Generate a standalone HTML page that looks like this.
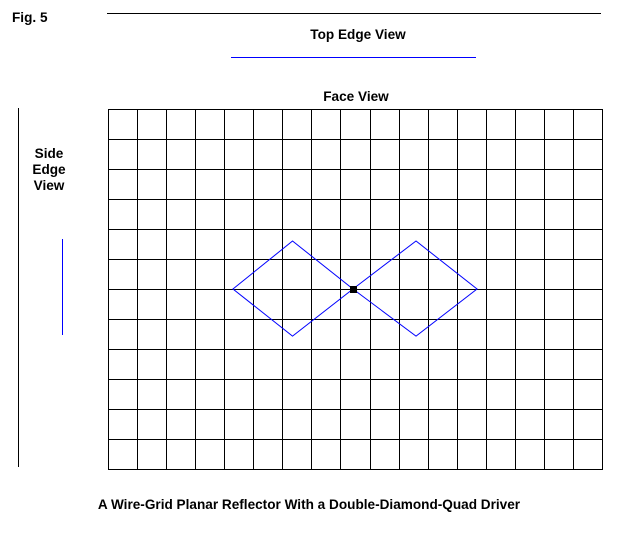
<!DOCTYPE html>
<html><head><meta charset="utf-8"><style>
body{margin:0;background:#fff;width:623px;height:528px;overflow:hidden}
svg text{font-family:"Liberation Sans",sans-serif;font-weight:bold;font-size:13.6px;fill:#000}
</style></head><body>
<svg id="c" width="623" height="528">
<text x="12" y="22">Fig. 5</text>
<line x1="107" y1="13.5" x2="601" y2="13.5" stroke="#000"/>
<text x="358" y="39" text-anchor="middle">Top Edge View</text>
<line x1="231" y1="57.5" x2="476" y2="57.5" stroke="#00f"/>
<text x="356" y="101" text-anchor="middle">Face View</text>
<line x1="18.5" y1="108" x2="18.5" y2="467" stroke="#000"/>
<text x="49" y="158" text-anchor="middle"><tspan x="49">Side</tspan><tspan x="49" dy="16">Edge</tspan><tspan x="49" dy="16">View</tspan></text>
<line x1="62.5" y1="239" x2="62.5" y2="335" stroke="#00f"/>
<g id="grid"></g>
<g id="drv"></g>
<text x="309" y="509" text-anchor="middle">A Wire-Grid Planar Reflector With a Double-Diamond-Quad Driver</text>
</svg>
<script>
const gridCols = 17;
const gridRows = 12;
const diamondLeftX = [4.3, 6.35, 8.43, 6.35];
const diamondLeftY = [6, 4.4, 6, 7.57];
const diamondRightX = [8.43, 10.6, 12.7, 10.6];
const diamondRightY = [6, 4.4, 6, 7.57];
const feedPoint = [8.43, 6];
const X0=108, X1=602, Y0=109, Y1=469;
const sx = u => X0 + u*(X1-X0)/gridCols;
const sy = u => Y0 + u*(Y1-Y0)/gridRows;
const NS='http://www.w3.org/2000/svg';
const g=document.getElementById('grid');
for(let i=0;i<=gridCols;i++){const l=document.createElementNS(NS,'line');
const x=Math.round(sx(i))+.5;
l.setAttribute('x1',x);l.setAttribute('x2',x);l.setAttribute('y1',Y0);l.setAttribute('y2',Y1+1);l.setAttribute('stroke','#000');


g.appendChild(l);}
for(let j=0;j<=gridRows;j++){const l=document.createElementNS(NS,'line');
const y=Math.round(sy(j))+.5;
l.setAttribute('y1',y);l.setAttribute('y2',y);l.setAttribute('x1',X0);l.setAttribute('x2',X1+1);l.setAttribute('stroke','#000');


g.appendChild(l);}
const d=document.getElementById('drv');
[[diamondLeftX,diamondLeftY,'left-diamond'],[diamondRightX,diamondRightY,'right-diamond']].forEach(([xs,ys,n])=>{
const p=document.createElementNS(NS,'polygon');
p.setAttribute('points',xs.map((x,i)=>sx(x)+','+sy(ys[i])).join(' '));
p.setAttribute('fill','none');p.setAttribute('stroke','#00f');


d.appendChild(p);});
const r=document.createElementNS(NS,'rect');
r.setAttribute('x',Math.round(sx(feedPoint[0]))-3);r.setAttribute('y',Math.round(sy(feedPoint[1]))-3);r.setAttribute('width',7);r.setAttribute('height',7);r.setAttribute('fill','#000');


d.appendChild(r);
</script>
</body></html>
